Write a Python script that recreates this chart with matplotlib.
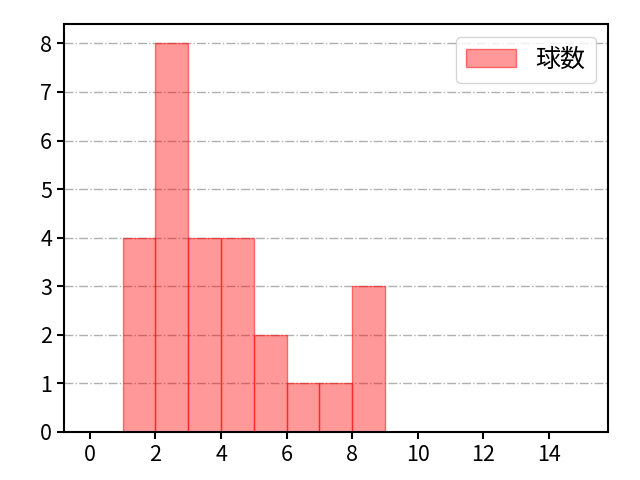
import matplotlib
matplotlib.use("Agg")
import matplotlib.pyplot as plt

plt.rcParams['font.family'] = ['Noto Sans CJK JP', 'DejaVu Sans']

# pitch count histogram
bin_edges = [1, 2, 3, 4, 5, 6, 7, 8, 9]
counts = [4, 8, 4, 4, 2, 1, 1, 3]
label = "球数"

fig = plt.figure(figsize=(6.4, 4.8), dpi=100)
ax = fig.add_axes([0.1, 0.1, 0.85, 0.85])

ax.hist(bin_edges[:-1], bins=bin_edges, weights=counts,
        color=(1, 0, 0, 0.4), edgecolor=(1, 0, 0, 0.5), linewidth=1, label=label)

ax.set_xlim(-0.79, 15.8)
ax.set_ylim(0, 8.4)
ax.set_xticks(range(0, 15, 2))
ax.set_yticks(range(0, 9))
ax.tick_params(labelsize=15.5, width=1.5, length=5)
for s in ax.spines.values():
    s.set_linewidth(1.5)
ax.yaxis.grid(True, linestyle='-.', color='#b0b0b0', linewidth=1)
ax.set_axisbelow(True)
ax.legend(loc='upper right', fontsize=18)

fig.savefig("out.png")
